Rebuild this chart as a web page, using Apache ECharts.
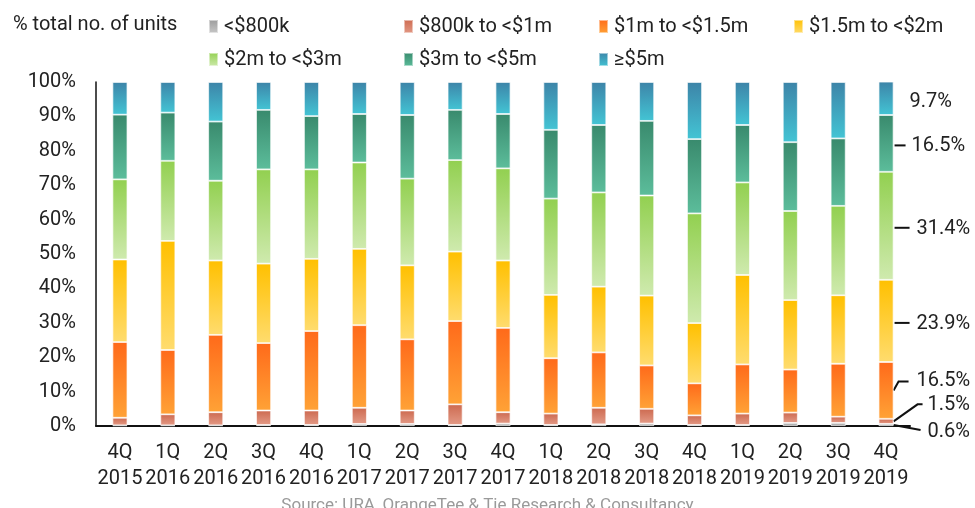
<!DOCTYPE html>
<html>
<head>
<meta charset="utf-8">
<script src="https://cdn.jsdelivr.net/npm/echarts@6/dist/echarts.min.js"></script>
<style>
  html, body { margin: 0; padding: 0; background: #fff; }
  #chart { width: 975px; height: 508px; }
</style>
</head>
<body>
<div id="chart"></div>
<script>
// Quarters shown along the x axis
const categories = ['4Q\n2015', '1Q\n2016', '2Q\n2016', '3Q\n2016', '4Q\n2016', '1Q\n2017', '2Q\n2017', '3Q\n2017',
  '4Q\n2017', '1Q\n2018', '2Q\n2018', '3Q\n2018', '4Q\n2018', '1Q\n2019', '2Q\n2019', '3Q\n2019', '4Q\n2019'];

// Share of units (%) in each price band, per quarter
const under800k = [0.2, 0.2, 0.2, 0.3, 0.3, 0.6, 0.6, 0.3, 0.7, 0.3, 0.5, 0.7, 0.3, 0.3, 0.9, 0.9, 0.6];
const from800kTo1m = [2.2, 3.2, 3.8, 4.2, 4.2, 4.7, 3.9, 6.0, 3.3, 3.3, 4.8, 4.3, 2.8, 3.3, 3.0, 1.8, 1.5];
const from1mTo1_5m = [22.0, 18.7, 22.5, 19.6, 23.1, 24.0, 20.7, 24.2, 24.5, 16.1, 16.1, 12.6, 9.3, 14.3, 12.5, 15.4, 16.5];
const from1_5mTo2m = [24.0, 31.7, 21.6, 23.1, 21.0, 22.2, 21.5, 20.2, 19.6, 18.4, 19.1, 20.3, 17.5, 26.0, 20.2, 19.9, 23.9];
const from2mTo3m = [23.3, 23.3, 23.2, 27.4, 26.0, 25.1, 25.2, 26.6, 26.8, 28.0, 27.4, 29.1, 31.9, 26.9, 25.9, 26.0, 31.4];
const from3mTo5m = [18.8, 14.0, 17.2, 17.3, 15.5, 14.1, 18.5, 14.6, 15.8, 20.0, 19.6, 21.7, 21.6, 16.7, 20.0, 19.6, 16.5];
const from5mUp = [9.5, 8.9, 11.5, 8.1, 9.9, 9.3, 9.6, 8.1, 9.3, 13.9, 12.5, 11.3, 16.6, 12.5, 17.5, 16.4, 9.7];

// Y axis tick values
const yTicks = [0, 10, 20, 30, 40, 50, 60, 70, 80, 90, 100];

const seriesNames = ['<$800k', '$800k to <$1m', '$1m to <$1.5m', '$1.5m to <$2m', '$2m to <$3m', '$3m to <$5m', '≥$5m'];
const seriesData = [under800k, from800kTo1m, from1mTo1_5m, from1_5mTo2m, from2mTo3m, from3mTo5m, from5mUp];

// Gradient colours per band: [top, bottom]
const bandColors = [
  ['#9a9a9a', '#c9c9c9'],
  ['#cd6a50', '#e39a86'],
  ['#ff6a1a', '#ffa236'],
  ['#ffc000', '#ffdc6e'],
  ['#92d050', '#cfeaae'],
  ['#398a6d', '#5cbd9b'],
  ['#3d84a8', '#43c4d4']
];

// Callout layout for the last quarter's labels: line bends and text placement (px)
const calloutLayout = [
  { dy: 6, line: [[0, 0], [27, 5]], textX: 34 },
  { dy: -17, line: [[0, 0], [24, -17], [29, -17]], textX: 34 },
  { dy: -10, line: [[0, 0], [5, -9], [15, -9]], textX: 23 },
  { dy: 2, line: [[1, 2], [16, 2]], textX: 23 },
  { dy: 2, line: [[1, 2], [16, 2]], textX: 23 },
  { dy: 2, line: [[1, 2], [12, 2]], textX: 18 },
  { dy: 3, line: null, textX: 16 }
];

const BAR_WIDTH = 15;
const FONT = 'Roboto, "Noto Sans", sans-serif';

const chart = echarts.init(document.getElementById('chart'));

const series = seriesNames.map((name, i) => ({
  name: name,
  type: 'bar',
  stack: 'total',
  barWidth: BAR_WIDTH,
  data: seriesData[i],
  itemStyle: {
    color: new echarts.graphic.LinearGradient(0, 0, 0, 1, [
      { offset: 0, color: bandColors[i][0] },
      { offset: 1, color: bandColors[i][1] }
    ]),
    borderColor: 'rgba(255,255,255,0.5)',
    borderWidth: 0.8
  },
  emphasis: { disabled: true },
  animation: false
}));

chart.setOption({
  backgroundColor: '#ffffff',
  animation: false,
  textStyle: { fontFamily: FONT },
  title: [
    {
      text: '% total no. of units',
      left: 8, top: 10,
      textStyle: { fontFamily: FONT, fontSize: 20, fontWeight: 'normal', color: '#222' }
    },
    {
      text: 'Source: URA, OrangeTee & Tie Research & Consultancy',
      left: 'center', top: 492,
      textStyle: { fontFamily: FONT, fontSize: 17, fontWeight: 'normal', color: '#9a9a9a' }
    }
  ],
  legend: {
    left: 203, top: 10, width: 780,
    itemWidth: 9, itemHeight: 13, itemGap: 10,
    icon: 'rect',
    textStyle: { fontFamily: FONT, fontSize: 20, color: '#222', width: 169, lineHeight: 23, padding: [0, 0, 0, 1] },
    data: seriesNames
  },
  grid: { left: 96, right: 65, top: 82, bottom: 82, containLabel: false },
  xAxis: {
    type: 'category',
    data: categories,
    axisLine: { lineStyle: { color: '#111', width: 2 } },
    axisTick: { show: false },
    axisLabel: { fontFamily: FONT, fontSize: 20, color: '#222', lineHeight: 26, margin: 14, interval: 0 }
  },
  yAxis: {
    type: 'value',
    min: yTicks[0], max: yTicks[yTicks.length - 1], interval: yTicks[1] - yTicks[0],
    axisLine: { show: true, lineStyle: { color: '#111', width: 1.5 } },
    axisTick: { show: false },
    splitLine: { show: false },
    axisLabel: { fontFamily: FONT, fontSize: 20, color: '#222', margin: 20, formatter: '{value}%' }
  },
  series: series
});

// Callout labels next to the final quarter, positioned through the chart's own scales
const lastIdx = categories.length - 1;
const graphics = [];
let cum = 0;
seriesData.forEach((arr, i) => {
  const v = arr[lastIdx];
  const mid = cum + v / 2;
  cum += v;
  const p = chart.convertToPixel({ seriesIndex: 0 }, [lastIdx, mid]);
  const x0 = p[0] + BAR_WIDTH / 2;
  const y0 = p[1];
  const lay = calloutLayout[i];
  if (lay.line) {
    graphics.push({
      type: 'polyline',
      shape: { points: lay.line.map(pt => [x0 + pt[0], y0 + pt[1]]) },
      style: { stroke: '#111', lineWidth: 2, fill: null },
      silent: true
    });
  }
  graphics.push({
    type: 'text',
    x: x0 + lay.textX,
    y: y0 + lay.dy + 1,
    style: {
      text: v.toFixed(1) + '%',
      font: '20px ' + FONT,
      fill: '#222',
      verticalAlign: 'middle',
      align: 'left'
    },
    silent: true
  });
});
chart.setOption({ graphic: graphics });
</script>
</body>
</html>
